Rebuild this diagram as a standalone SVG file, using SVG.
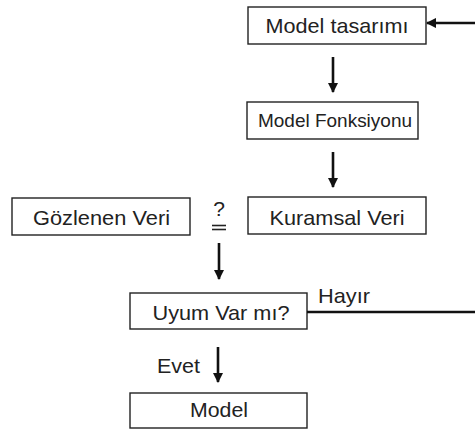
<svg xmlns="http://www.w3.org/2000/svg" width="475" height="430" viewBox="0 0 475 430">
<defs>
<style>
.box{fill:#fff;stroke:#222;stroke-width:1.4}
.t{font-family:"Liberation Sans",Arial,sans-serif;font-size:21px;fill:#222}
.c{stroke:#111;stroke-width:2.6;fill:none}
</style>
<marker id="ah" viewBox="0 0 10 10" refX="9" refY="5" markerWidth="4" markerHeight="4.2" orient="auto" markerUnits="strokeWidth">
<path d="M0,0 L10,5 L0,10 z" fill="#111"/>
</marker>
</defs>
<rect width="475" height="430" fill="#fff"/>
<g id="model-tasarimi">
<rect class="box" x="248" y="7" width="178" height="37"/>
<text class="t" x="337" y="33" text-anchor="middle" textLength="143" lengthAdjust="spacingAndGlyphs">Model tasarımı</text>
</g>
<g id="model-fonksiyonu">
<rect class="box" x="247" y="102" width="171" height="37"/>
<text class="t" x="335" y="127" text-anchor="middle" textLength="154" lengthAdjust="spacingAndGlyphs" style="font-size:19px">Model Fonksiyonu</text>
</g>
<g id="gozlenen-veri">
<rect class="box" x="12" y="198" width="178" height="37"/>
<text class="t" x="101.5" y="225" text-anchor="middle" textLength="137" lengthAdjust="spacingAndGlyphs">Gözlenen Veri</text>
</g>
<g id="kuramsal-veri">
<rect class="box" x="248" y="197" width="178" height="37"/>
<text class="t" x="337" y="225" text-anchor="middle" textLength="135" lengthAdjust="spacingAndGlyphs">Kuramsal Veri</text>
</g>
<g id="esit-mi">
<text class="t" x="219" y="216" text-anchor="middle">?</text>
<line x1="212" y1="225.5" x2="226" y2="225.5" stroke="#222" stroke-width="1.6"/>
<line x1="212" y1="229.5" x2="226" y2="229.5" stroke="#222" stroke-width="1.6"/>
</g>
<g id="uyum">
<rect class="box" x="130" y="293" width="177" height="36"/>
<text class="t" x="221" y="320" text-anchor="middle" textLength="137" lengthAdjust="spacingAndGlyphs">Uyum Var mı?</text>
</g>
<g id="model">
<rect class="box" x="130" y="393" width="177" height="35"/>
<text class="t" x="219" y="417" text-anchor="middle" textLength="58" lengthAdjust="spacingAndGlyphs">Model</text>
</g>
<g id="connectors">
<line class="c" x1="333" y1="57" x2="333" y2="92" marker-end="url(#ah)"/>
<line class="c" x1="333" y1="152" x2="333" y2="187" marker-end="url(#ah)"/>
<line class="c" x1="219" y1="243" x2="219" y2="279" marker-end="url(#ah)"/>
<line class="c" x1="218" y1="347" x2="218" y2="382" marker-end="url(#ah)"/>
<line class="c" x1="475" y1="23" x2="427" y2="23" marker-end="url(#ah)"/>
<line class="c" x1="307" y1="312" x2="475" y2="312"/>
<text class="t" x="318" y="303" textLength="52" lengthAdjust="spacingAndGlyphs">Hayır</text>
<text class="t" x="157" y="373" textLength="43" lengthAdjust="spacingAndGlyphs">Evet</text>
</g>
</svg>
